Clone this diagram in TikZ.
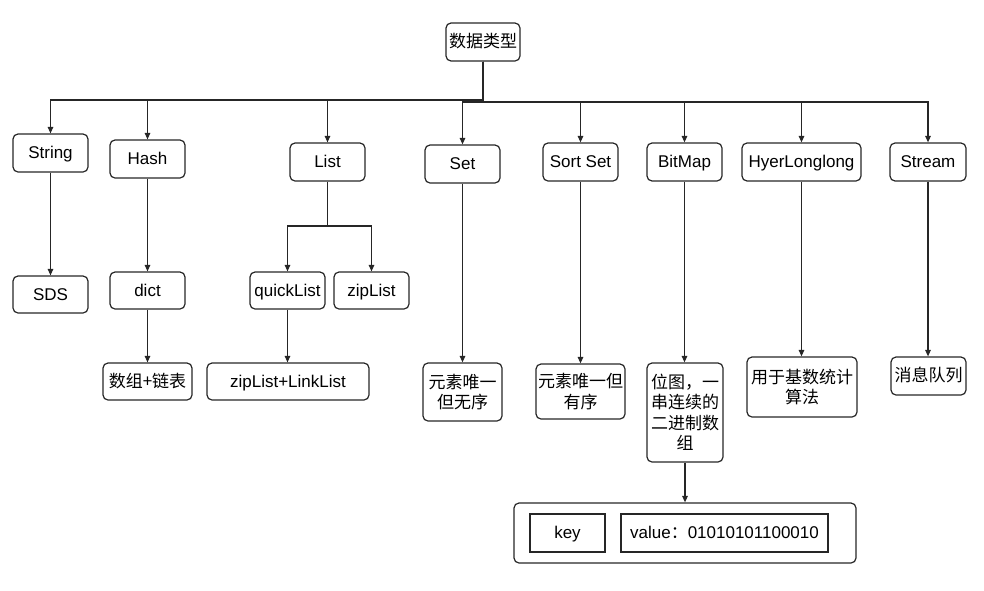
\documentclass[tikz,border=0pt]{standalone}
\usepackage{fontspec}
\setmainfont{Liberation Sans}
\newfontfamily\cjk{Noto Sans CJK SC}
\usetikzlibrary{arrows.meta}
\tikzset{
  bx/.style={draw=black!85, line width=1.2pt, rounded corners=5pt, inner sep=0pt, align=center,
    font=\fontsize{17}{20.5}\selectfont},
  one/.style={bx, text height=11.5pt, text depth=0pt},
  sq/.style={one, rounded corners=0pt},
  con/.style={draw=black!85, line width=1.2pt, -{Triangle[length=6.5pt,width=5.5pt]}},
  ln/.style={draw=black!85, line width=1.2pt},
}
\newcommand{\bxnode}[6]{\node[#1, minimum width=#4pt, minimum height=#5pt] (#2) at (#3) {#6};}
\begin{document}
\begin{tikzpicture}[x=1pt,y=-1pt]
\useasboundingbox (0,0) rectangle (984,590);
% top
\bxnode{one}{root}{483,42}{74}{38}{\cjk 数据类型}
\bxnode{one}{String}{50.5,153}{75}{38}{String}
\bxnode{one}{Hash}{147.5,159}{75}{38}{Hash}
\bxnode{one}{List}{327.5,162}{75}{38}{List}
\bxnode{one}{Set}{462.5,164}{75}{38}{Set}
\bxnode{one}{SortSet}{580.5,162}{75}{38}{Sort Set}
\bxnode{one}{BitMap}{684.5,162}{75}{38}{BitMap}
\bxnode{one}{Hyper}{801.5,162}{119}{38}{HyerLonglong}
\bxnode{one}{Stream}{928,162}{76}{38}{Stream}
% second row
\bxnode{one}{SDS}{50.5,294.5}{75}{37}{SDS}
\bxnode{one}{dict}{147.5,290.5}{75}{37}{dict}
\bxnode{one}{quick}{287.5,290.5}{75}{37}{quickList}
\bxnode{one}{zip}{371.5,290.5}{75}{37}{zipList}
\bxnode{one}{arrl}{147.5,381.5}{89}{37}{\cjk 数组+链表}
\bxnode{one}{zl}{288,381.5}{162}{37}{zipList+LinkList}
% descriptions
\bxnode{bx}{setd}{462.5,392}{79}{58}{\cjk 元素唯一\\\cjk 但无序}
\bxnode{bx}{sortd}{580.5,391.5}{89}{55}{\cjk 元素唯一但\\\cjk 有序}
\bxnode{bx}{bitd}{685,412.5}{76}{99}{\cjk 位图，一\\\cjk 串连续的\\\cjk 二进制数\\\cjk 组}
\bxnode{bx}{hyd}{802,387}{110}{60}{\cjk 用于基数统计\\\cjk 算法}
\bxnode{one}{strd}{928.5,376}{75}{38}{\cjk 消息队列}
% bitmap structure
\bxnode{bx}{outer}{685,533}{342}{60}{}
\bxnode{sq}{key}{567.5,533}{75}{38}{key}
\bxnode{sq}{value}{724.5,533}{207}{38}{value{\cjk ：}01010101100010}
% bus
\coordinate (busL) at (0,100);
\coordinate (busR) at (0,102);
\coordinate (lsplit) at (0,226);
\foreach \c in {String,Hash,List}{
  \draw[con] (root.south) -- (root.south |- busL) -| (\c.north);
}
\foreach \c in {Set,SortSet,BitMap,Hyper,Stream}{
  \draw[con] (root.south) -- (root.south |- busR) -| (\c.north);
}
\draw[con] (String) -- (SDS);
\draw[con] (Hash) -- (dict);
\draw[con] (dict) -- (arrl);
\draw[ln] (List.south) -- (List.south |- lsplit);
\draw[con] (List.south |- lsplit) -| (quick.north);
\draw[con] (List.south |- lsplit) -| (zip.north);
\draw[con] (quick) -- (quick.south |- zl.north);
\draw[con] (Set) -- (Set.south |- setd.north);
\draw[con] (SortSet) -- (SortSet.south |- sortd.north);
\draw[con] (BitMap) -- (BitMap.south |- bitd.north);
\draw[con] (Hyper) -- (Hyper.south |- hyd.north);
\draw[con] (Stream) -- (Stream.south |- strd.north);
\draw[con] (bitd) -- (bitd.south |- outer.north);
\end{tikzpicture}
\end{document}
